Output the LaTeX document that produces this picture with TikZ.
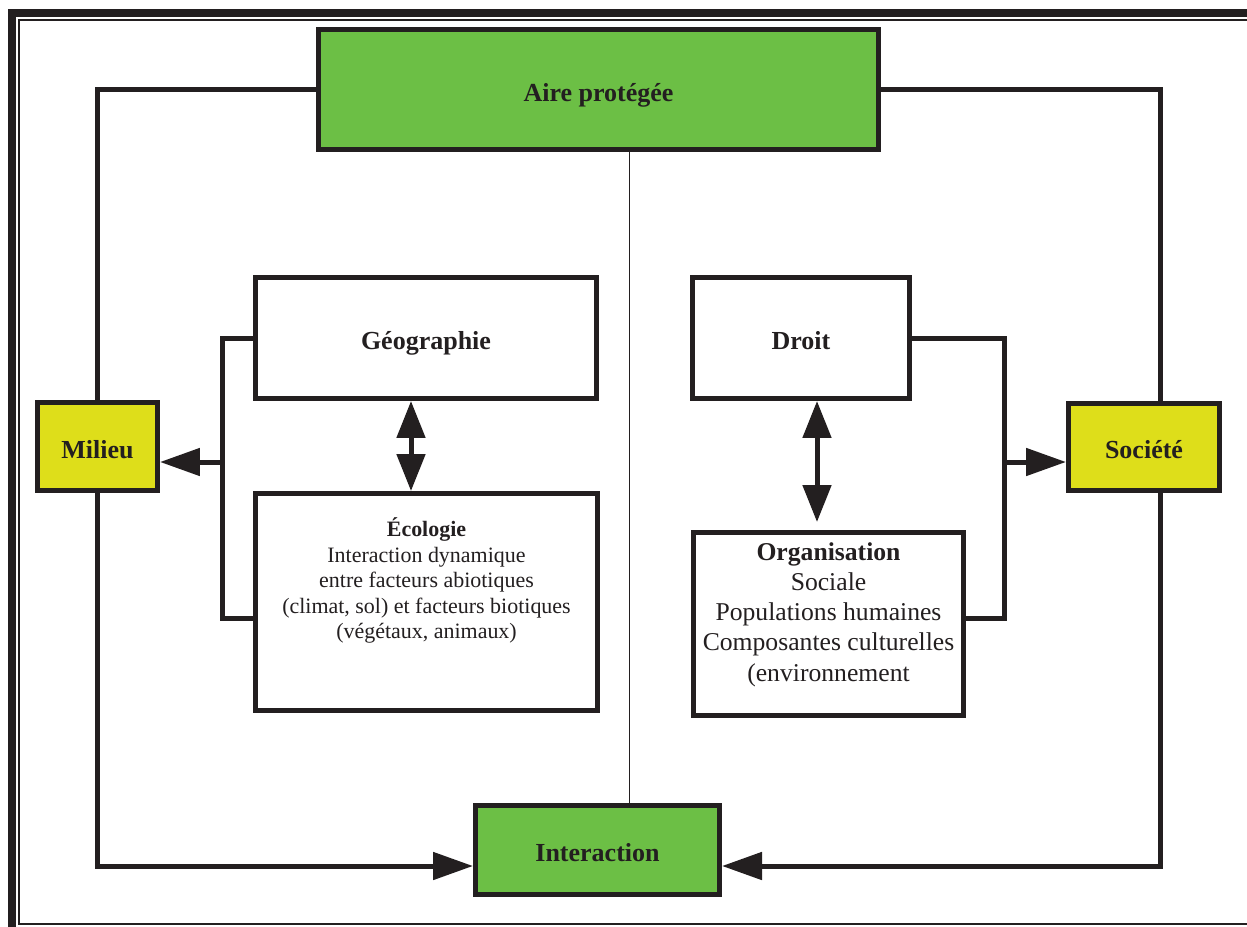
\documentclass[tikz,border=0pt]{standalone}
\usepackage{fontspec}
\setmainfont{Liberation Serif}
\usetikzlibrary{arrows.meta}

\newlength\px
\setlength\px{0.02cm}
\definecolor{vert}{RGB}{108,191,69}
\definecolor{jaune}{RGB}{222,222,26}
\definecolor{trait}{RGB}{35,31,32}

\begin{document}
\begin{tikzpicture}[x=0.02cm, y=-0.02cm, color=trait, line width=5\px,
        boite/.style={draw, inner sep=0pt, align=center},
        titre/.style={font=\bfseries\fontsize{14.8}{17}\selectfont, text height=13.4pt, text depth=0pt},
        fleche/.style={-{Triangle[length=0.8cm,width=0.54cm]}},
        dfleche/.style={{Triangle[length=0.74cm,width=0.56cm]}-{Triangle[length=0.74cm,width=0.56cm]}}]
        \useasboundingbox (0,0) rectangle (1247,926);
        \clip (0,0) rectangle (1247,926);

        % cadre
        \draw[line width=8\px] (12,940) -- (12,13) -- (1260,13);
        \draw[line width=2\px] (1260,20) -- (19,20) -- (19,924) -- (1260,924);

        % boites
        \node[boite, titre, fill=vert, minimum width=560\px, minimum height=120\px] (aire) at (598.5,89.5) {Aire protégée};
        \node[boite, titre, fill=jaune, minimum width=120\px, minimum height=88\px] (milieu) at (97.5,446.5) {Milieu};
        \node[boite, titre, fill=jaune, minimum width=151\px, minimum height=87\px] (societe) at (1144,447) {Société};
        \node[boite, titre, fill=vert, minimum width=244\px, minimum height=89\px] (interaction) at (597.5,850) {Interaction};
        \node[boite, titre, fill=white, minimum width=341\px, minimum height=121\px] (geo) at (426,338) {Géographie};
        \node[boite, titre, fill=white, minimum width=217\px, minimum height=121\px] (droit) at (801,338) {Droit};
        \node[boite, fill=white, minimum width=342\px, minimum height=217\px] (eco) at (426.5,602) {};
        \node[boite, fill=white, minimum width=270\px, minimum height=183\px] (orga) at (828.5,624) {};

        \node[align=center, anchor=north, inner sep=0pt, font=\fontsize{12.5}{14.6}\selectfont] (ecotexte) at ([yshift=-24\px]eco.north)
            {\textbf{Écologie}\\Interaction dynamique\\entre facteurs abiotiques\\(climat, sol) et facteurs biotiques\\(végétaux, animaux)};
        \node[align=center, anchor=north, inner sep=0pt, font=\fontsize{14.6}{17.2}\selectfont] (orgatexte) at ([yshift=-10\px]orga.north)
            {\textbf{Organisation}\\Sociale\\Populations humaines\\Composantes culturelles\\(environnement};

        % reperes
        \coordinate (droite) at (1160,0);
        \coordinate (bas) at (0,866);
        \coordinate (axe) at (629,0);
        \coordinate (crochetg) at (222,462);
        \coordinate (gbas) at (222,618);
        \coordinate (crochetd) at (1004.5,462);
        \coordinate (dbas) at (1004.5,618);
        \coordinate (fg) at (411,0);
        \coordinate (fd) at (817,0);

        % liaisons
        \draw (aire.west) -| (milieu.north);
        \draw (aire.east) -| (societe.north -| droite);
        \draw[fleche] (milieu.south) |- (interaction.west |- bas);
        \draw[fleche] (societe.south -| droite) |- (interaction.east |- bas);
        \draw[line width=1\px] (aire.south -| axe) -- (interaction.north -| axe);

        \draw (geo.west) -| (gbas) -- (eco.west |- gbas);
        \draw[fleche] (crochetg) -- (milieu.east |- crochetg);
        \draw (droit.east) -| (dbas) -- (orga.east |- dbas);
        \draw[fleche] (crochetd) -- (societe.west |- crochetd);

        \draw[dfleche] (geo.south -| fg) -- (eco.north -| fg);
        \draw[dfleche, shorten >=8\px] (droit.south -| fd) -- (orga.north -| fd);
    \end{tikzpicture}
\end{document}
